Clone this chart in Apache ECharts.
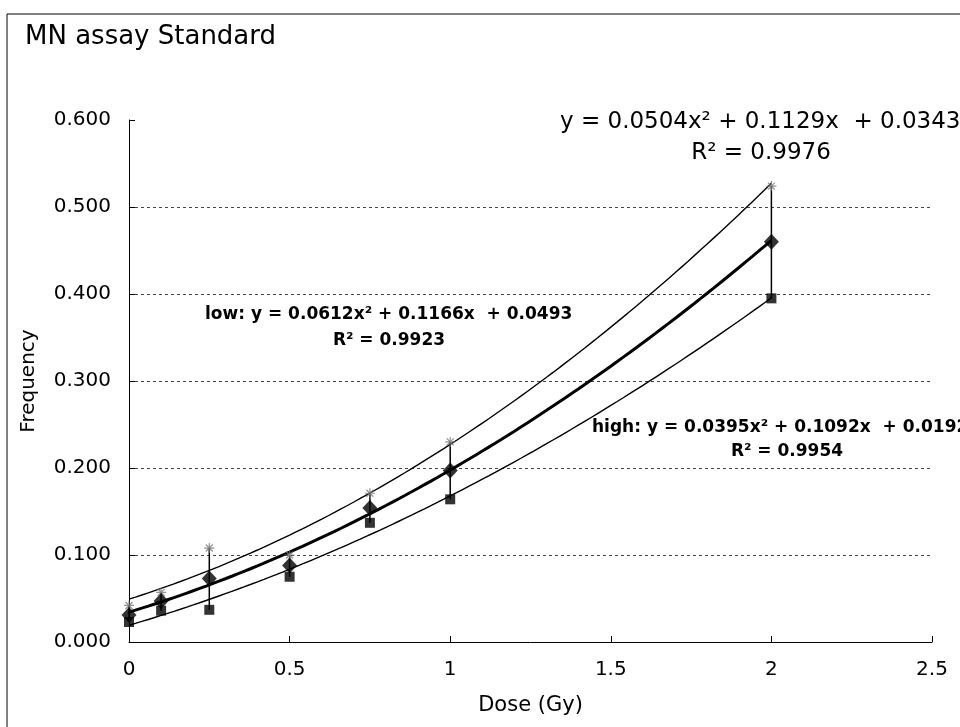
<!DOCTYPE html>
<html><head><meta charset="utf-8">
<script src="https://cdn.jsdelivr.net/npm/echarts@6/dist/echarts.min.js"></script>
<style>html,body{margin:0;padding:0;background:#fff}#c{width:960px;height:727px}</style>
</head><body><div id="c"></div>
<script>
// ---- data ----
const doseGy   = [0, 0.1, 0.25, 0.5, 0.75, 1, 2];
const meanFreq = [0.031, 0.047, 0.073, 0.088, 0.154, 0.197, 0.460];
const highFreq = [0.023, 0.036, 0.037, 0.075, 0.137, 0.164, 0.395]; // squares (lower curve)
const lowFreq  = [0.042, 0.057, 0.108, 0.100, 0.171, 0.230, 0.524]; // stars (upper curve)
const meanFit = [0.0504, 0.1129, 0.0343], meanR2 = 0.9976;
const lowFit  = [0.0612, 0.1166, 0.0493], lowR2  = 0.9923;
const highFit = [0.0395, 0.1092, 0.0192], highR2 = 0.9954;
const yTicks = ['0.000','0.100','0.200','0.300','0.400','0.500','0.600'];
const xTicks = ['0','0.5','1','1.5','2','2.5'];

const FONT = '"DejaVu Sans", sans-serif';
function trend(c){ const out=[]; for(let i=0;i<=100;i++){const x=2*i/100; out.push([x, c[0]*x*x+c[1]*x+c[2]]);} return out; }
function eq(prefix,c){ return prefix+'y = '+c[0].toFixed(4)+'x² + '+c[1].toFixed(4)+'x  + '+c[2].toFixed(4); }
const pts = a => doseGy.map((x,i)=>[x,a[i]]);
const starPath = 'path://M5,0L5,10M0,5L10,5M1.5,1.5L8.5,8.5M8.5,1.5L1.5,8.5';

const chart = echarts.init(document.getElementById('c'));
chart.setOption({
  animation:false,
  backgroundColor:'#fff',
  grid:{left:129, right:28, top:120, bottom:85},
  xAxis:{type:'value', min:0, max:2.5, interval:0.5,
    name:'Dose (Gy)', nameLocation:'middle', nameGap:53,
    nameTextStyle:{fontFamily:FONT, fontSize:21, color:'#000'},
    axisLine:{lineStyle:{color:'#000', width:1}},
    axisTick:{inside:true, length:6, lineStyle:{color:'#000'}},
    axisLabel:{fontFamily:FONT, fontSize:20, color:'#000', margin:18,
      formatter:(v)=>{const i=Math.round(v/0.5); return xTicks[i]||'';}},
    splitLine:{show:false}},
  yAxis:{type:'value', min:0, max:0.6, interval:0.1,
    name:'Frequency', nameLocation:'middle', nameGap:90,
    nameTextStyle:{fontFamily:FONT, fontSize:20, color:'#000'},
    axisLine:{show:true, lineStyle:{color:'#000', width:1}},
    axisTick:{show:true, inside:true, length:6, lineStyle:{color:'#000'}},
    axisLabel:{fontFamily:FONT, fontSize:20, color:'#000', margin:18,
      formatter:(v)=>{const i=Math.round(v/0.1); return yTicks[i]||'';}},
    splitLine:{show:true, lineStyle:{color:['transparent','#444','#444','#444','#444','#444','transparent'], type:[3,3], width:1}}},
  series:[
    {type:'line', data:trend(lowFit), showSymbol:false, lineStyle:{color:'#000', width:1.4}, z:2, silent:true},
    {type:'line', data:trend(highFit), showSymbol:false, lineStyle:{color:'#000', width:1.4}, z:2, silent:true},
    {type:'line', data:trend(meanFit), showSymbol:false, lineStyle:{color:'#000', width:3}, z:2, silent:true},
    {type:'custom', z:3, silent:true,
      data:doseGy.map((x,i)=>[x, highFreq[i], lowFreq[i]]),
      encode:{x:0, y:[1,2]},
      renderItem:(params, api)=>{
        const a=api.coord([api.value(0), api.value(1)]), b=api.coord([api.value(0), api.value(2)]);
        return {type:'line', shape:{x1:a[0],y1:a[1],x2:b[0],y2:b[1]}, style:{stroke:'#000', lineWidth:1.5}};
      }},
    {type:'scatter', data:pts(lowFreq), symbol:starPath, symbolSize:10, z:4,
      itemStyle:{color:'none', borderColor:'#777', borderWidth:1.2}},
    {type:'scatter', data:pts(highFreq), symbol:'rect', symbolSize:10, z:4, itemStyle:{color:'#000'}},
    {type:'scatter', data:pts(meanFreq), symbol:'diamond', symbolSize:[15,16], z:5, itemStyle:{color:'#000'}}
  ],
  graphic:[
    {type:'rect', shape:{x:7, y:14, width:1000, height:800}, style:{fill:'none', stroke:'#000', lineWidth:1}, z:-1, silent:true},
    {type:'text', x:25, y:37, style:{text:'MN assay Standard', font:'26px '+FONT, fill:'#000', textVerticalAlign:'middle', verticalAlign:'middle'}},
    {type:'text', x:560, y:122, style:{text:eq('',meanFit), font:'23px '+FONT, fill:'#000', textVerticalAlign:'middle', verticalAlign:'middle'}},
    {type:'text', x:761, y:153, style:{text:'R² = '+meanR2.toFixed(4), font:'23px '+FONT, fill:'#000', textAlign:'center', align:'center', textVerticalAlign:'middle', verticalAlign:'middle'}},
    {type:'text', x:205, y:315, style:{text:eq('low: ',lowFit), font:'bold 17px '+FONT, fill:'#000', textVerticalAlign:'middle', verticalAlign:'middle'}},
    {type:'text', x:389, y:341, style:{text:'R² = '+lowR2.toFixed(4), font:'bold 17px '+FONT, fill:'#000', textAlign:'center', align:'center', textVerticalAlign:'middle', verticalAlign:'middle'}},
    {type:'text', x:592, y:428, style:{text:eq('high: ',highFit), font:'bold 17px '+FONT, fill:'#000', textVerticalAlign:'middle', verticalAlign:'middle'}},
    {type:'text', x:787, y:452, style:{text:'R² = '+highR2.toFixed(4), font:'bold 17px '+FONT, fill:'#000', textAlign:'center', align:'center', textVerticalAlign:'middle', verticalAlign:'middle'}}
  ]
});
</script></body></html>
